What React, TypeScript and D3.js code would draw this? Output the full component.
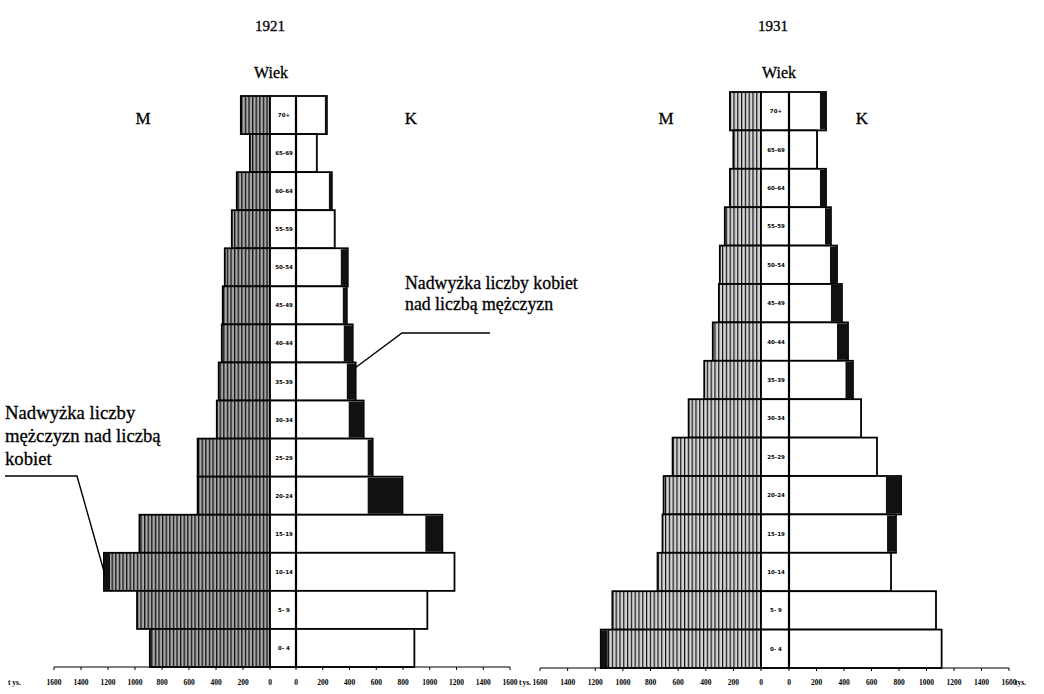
import React from "react";
import * as d3 from "d3";

const ages = ["70+", "65-69", "60-64", "55-59", "50-54", "45-49", "40-44", "35-39", "30-34", "25-29", "20-24", "15-19", "10-14", "5- 9", "0- 4"];

// thousands, 1921
const men1921 = [216, 149, 246, 283, 335, 350, 357, 380, 394, 536, 536, 967, 1230, 985, 890];
const women1921 = [231, 156, 268, 290, 387, 380, 424, 446, 506, 573, 796, 1094, 1185, 982, 885];

// thousands, 1931
const men1931 = [225, 200, 225, 262, 298, 305, 349, 411, 524, 640, 705, 713, 749, 1076, 1160];
const women1931 = [269, 204, 269, 305, 349, 385, 429, 465, 524, 640, 815, 778, 742, 1069, 1110];

const tickValues = [0, 200, 400, 600, 800, 1000, 1200, 1400, 1600];
const years = ["1921", "1931"];

type Cfg = {
  year: string;
  men: number[];
  women: number[];
  men0: number;
  men1600: number;
  women0: number;
  women1600: number;
  top: number;
  bottom: number;
  pattern: string;
  titleX: number;
  wiekX: number;
  mX: number;
  kX: number;
};

const charts: Cfg[] = [
  { year: years[0], men: men1921, women: women1921, men0: 270, men1600: 54, women0: 296, women1600: 510, top: 96, bottom: 667, pattern: "hatchA", titleX: 270, wiekX: 271, mX: 143, kX: 411 },
  { year: years[1], men: men1931, women: women1931, men0: 761, men1600: 540, women0: 789, women1600: 1009, top: 92, bottom: 668, pattern: "hatchB", titleX: 773, wiekX: 779, mX: 666, kX: 862 },
];

const serif = "'Liberation Serif', 'DejaVu Serif', serif";
const ink = { stroke: "#000", strokeWidth: 0.3 };

function Pyramid({ c }: { c: Cfg }) {
  const y = d3.scaleBand<string>().domain(ages).range([c.top, c.bottom]).padding(0);
  const xM = d3.scaleLinear().domain([0, 1600]).range([c.men0, c.men1600]);
  const xW = d3.scaleLinear().domain([0, 1600]).range([c.women0, c.women1600]);
  const bh = y.bandwidth();
  const sw = 1.8;
  return (
    <g>
      <text x={c.titleX} y={31} textAnchor="middle" fontFamily={serif} fontSize={15} {...ink}>{c.year}</text>
      <text x={c.wiekX} y={78} textAnchor="middle" fontFamily={serif} fontSize={16} {...ink}>Wiek</text>
      <text x={c.mX} y={124} textAnchor="middle" fontFamily={serif} fontSize={17} {...ink}>M</text>
      <text x={c.kX} y={124} textAnchor="middle" fontFamily={serif} fontSize={17} {...ink}>K</text>
      {ages.map((a, i) => {
        const m = c.men[i];
        const w = c.women[i];
        const y0 = y(a)!;
        return (
          <g key={a}>
            <rect x={xM(m)} y={y0} width={xM(0) - xM(m)} height={bh} fill={`url(#${c.pattern})`} stroke="#000" strokeWidth={sw} />
            {m > w && <rect x={xM(m)} y={y0 + 1} width={xM(w) - xM(m)} height={bh - 2} fill="#111" />}
            <rect x={xM(0)} y={y0} width={xW(0) - xM(0)} height={bh} fill="#fff" stroke="#000" strokeWidth={sw} />
            <text x={(xM(0) + xW(0)) / 2 + 1} y={y0 + bh / 2 + 2} textAnchor="middle" fontFamily="'DejaVu Sans', sans-serif" fontWeight="bold" fontSize={5.5}>{a}</text>
            <rect x={xW(0)} y={y0} width={xW(w) - xW(0)} height={bh} fill="#fff" stroke="#000" strokeWidth={sw} />
            {w > m && <rect x={xW(m)} y={y0 + 1} width={xW(w) - xW(m)} height={bh - 2} fill="#111" />}
          </g>
        );
      })}
      <line x1={xW(0)} x2={xW(0)} y1={c.top} y2={c.bottom} stroke="#000" strokeWidth={2.2} />
      <line x1={xM(1600)} x2={xW(1600)} y1={c.bottom} y2={c.bottom} stroke="#000" strokeWidth={1.2} />
      {tickValues.map((t) => (
        <g key={"m" + t}>
          <line x1={xM(t)} x2={xM(t)} y1={c.bottom} y2={c.bottom + 3} stroke="#000" strokeWidth={1} />
          <text x={xM(t)} y={685} textAnchor="middle" fontFamily={serif} fontWeight="bold" fontSize={7.5}>{t}</text>
        </g>
      ))}
      {tickValues.map((t) => (
        <g key={"w" + t}>
          <line x1={xW(t)} x2={xW(t)} y1={c.bottom} y2={c.bottom + 3} stroke="#000" strokeWidth={1} />
          <text x={xW(t)} y={685} textAnchor="middle" fontFamily={serif} fontWeight="bold" fontSize={7.5}>{t}</text>
        </g>
      ))}
    </g>
  );
}

export default function App() {
  return (
    <svg width={1044} height={694} style={{ position: "absolute", left: 0, top: 0, background: "#fff" }}>
      <defs>
        <pattern id="hatchA" width={3.6} height={10} patternUnits="userSpaceOnUse">
          <rect width={3.6} height={10} fill="#a8a8a8" />
          <rect width={1.3} height={10} fill="#111" />
        </pattern>
        <pattern id="hatchB" width={3.8} height={10} patternUnits="userSpaceOnUse">
          <rect width={3.8} height={10} fill="#d4d4d4" />
          <rect width={1.2} height={10} fill="#111" />
        </pattern>
      </defs>
      <rect width={1044} height={694} fill="#fff" />
      {charts.map((c) => (
        <Pyramid key={c.year} c={c} />
      ))}
      <text x={8} y={685} fontFamily={serif} fontWeight="bold" fontSize={7.5}>t ys.</text>
      <text x={519} y={685} fontFamily={serif} fontWeight="bold" fontSize={7.5}>t</text>
      <text x={522.5} y={685} fontFamily={serif} fontWeight="bold" fontSize={7.5}>ys.</text>
      <text x={1015} y={685} fontFamily={serif} fontWeight="bold" fontSize={7.5}>tys.</text>

      <text fontFamily={serif} fontSize={17.8} {...ink}>
        <tspan x={405} y={289}>Nadwyżka liczby kobiet</tspan>
        <tspan x={405} y={310}>nad liczbą mężczyzn</tspan>
      </text>
      <polyline points="490,333 402,333 355,368" fill="none" stroke="#000" strokeWidth={1.4} />

      <text fontFamily={serif} fontSize={18.7} {...ink}>
        <tspan x={5} y={419}>Nadwyżka liczby</tspan>
        <tspan x={5} y={442}>mężczyzn nad liczbą</tspan>
        <tspan x={5} y={465}>kobiet</tspan>
      </text>
      <polyline points="5,476 77,476 105,575" fill="none" stroke="#000" strokeWidth={1.4} />
    </svg>
  );
}
